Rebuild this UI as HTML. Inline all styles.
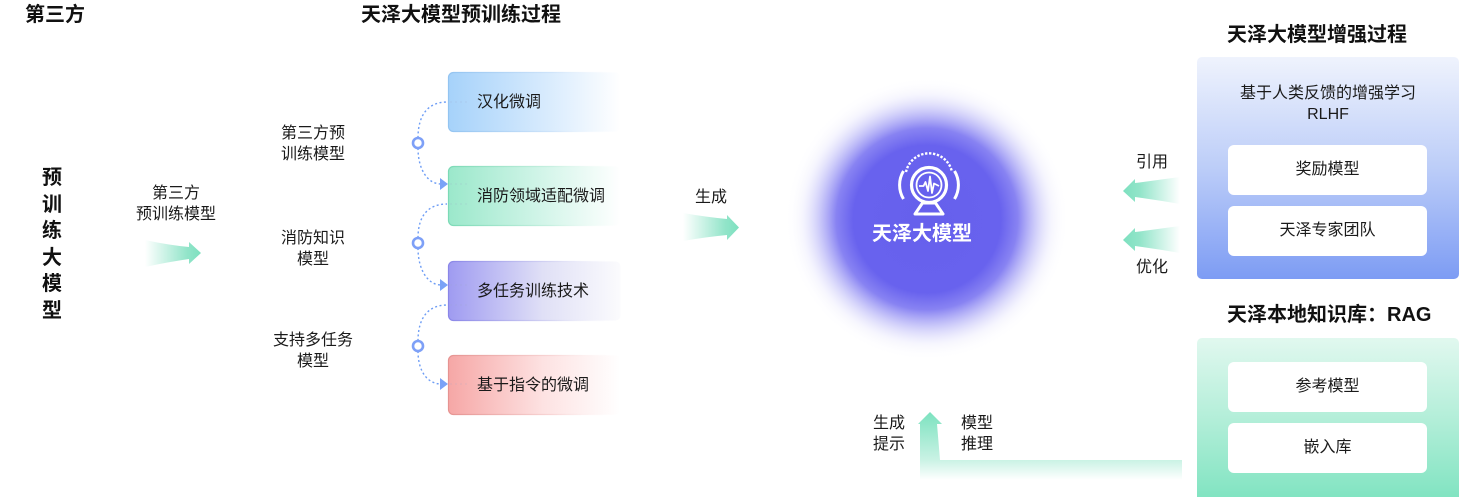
<!DOCTYPE html>
<html><head><meta charset="utf-8"><style>
html,body{margin:0;padding:0;background:#fff;}
body{width:1459px;height:497px;position:relative;overflow:hidden;font-family:"Liberation Sans","Noto Sans CJK SC",sans-serif;color:#1a1a1a;}
.t{position:absolute;white-space:nowrap;}
.b20{font-size:20px;font-weight:bold;line-height:24px;color:#111;}
.n16{font-size:16px;line-height:21px;}
.c{text-align:center;}
svg{position:absolute;left:0;top:0;}
</style></head><body>
<svg width="1459" height="497" viewBox="0 0 1459 497">
<defs>
<linearGradient id="g1" x1="0" x2="1" y1="0" y2="0"><stop offset="0" stop-color="#a6d2fa"/><stop offset="0.55" stop-color="#d6eafd"/><stop offset="1" stop-color="#ffffff"/></linearGradient>
<linearGradient id="s1" x1="0" x2="1"><stop offset="0" stop-color="#93c4f1"/><stop offset="0.6" stop-color="#cfe4fa"/><stop offset="1" stop-color="#ffffff" stop-opacity="0"/></linearGradient>
<linearGradient id="g2" x1="0" x2="1"><stop offset="0" stop-color="#9be8cb"/><stop offset="0.55" stop-color="#d3f5e9"/><stop offset="1" stop-color="#ffffff"/></linearGradient>
<linearGradient id="s2" x1="0" x2="1"><stop offset="0" stop-color="#7cdab6"/><stop offset="0.6" stop-color="#c8f0e1"/><stop offset="1" stop-color="#ffffff" stop-opacity="0"/></linearGradient>
<linearGradient id="g3" x1="0" x2="1"><stop offset="0" stop-color="#9f9bf1"/><stop offset="0.55" stop-color="#e0e0f6"/><stop offset="1" stop-color="#fbfbfd"/></linearGradient>
<linearGradient id="s3" x1="0" x2="1"><stop offset="0" stop-color="#8a86e8"/><stop offset="0.6" stop-color="#d6d6f3"/><stop offset="1" stop-color="#ffffff" stop-opacity="0"/></linearGradient>
<linearGradient id="g4" x1="0" x2="1"><stop offset="0" stop-color="#f6a7a6"/><stop offset="0.55" stop-color="#fde2e2"/><stop offset="1" stop-color="#ffffff"/></linearGradient>
<linearGradient id="s4" x1="0" x2="1"><stop offset="0" stop-color="#e69391"/><stop offset="0.6" stop-color="#f8d6d6"/><stop offset="1" stop-color="#ffffff" stop-opacity="0"/></linearGradient>
<linearGradient id="hl" x1="0" x2="1"><stop offset="0" stop-color="#a9bffa" stop-opacity="0"/><stop offset="1" stop-color="#a3bafa"/></linearGradient>
<linearGradient id="ar" x1="0" x2="1"><stop offset="0" stop-color="#7fe0c0" stop-opacity="0"/><stop offset="0.75" stop-color="#7fe0c0" stop-opacity="0.85"/><stop offset="1" stop-color="#7de0bf"/></linearGradient>
<linearGradient id="al" x1="0" x2="1"><stop offset="0" stop-color="#7de0bf"/><stop offset="0.3" stop-color="#7fe0c0" stop-opacity="0.85"/><stop offset="1" stop-color="#7fe0c0" stop-opacity="0"/></linearGradient>
<linearGradient id="au" x1="0" x2="0" y1="412" y2="480" gradientUnits="userSpaceOnUse"><stop offset="0" stop-color="#7ce2bf"/><stop offset="0.7" stop-color="#c9f2e4"/><stop offset="1" stop-color="#ffffff"/></linearGradient>
<radialGradient id="glow" cx="927" cy="219" r="142" gradientUnits="userSpaceOnUse"><stop offset="0" stop-color="#6660ec"/><stop offset="0.52" stop-color="#6862ee"/><stop offset="0.64" stop-color="#736df0" stop-opacity="0.85"/><stop offset="0.76" stop-color="#8f8bf3" stop-opacity="0.45"/><stop offset="0.88" stop-color="#c4c2f8" stop-opacity="0.15"/><stop offset="1" stop-color="#ffffff" stop-opacity="0"/></radialGradient>
<linearGradient id="bb" x1="0" x2="0" y1="0" y2="1"><stop offset="0" stop-color="#eff3fd"/><stop offset="0.5" stop-color="#bccdf8"/><stop offset="1" stop-color="#7d9cf4"/></linearGradient>
<linearGradient id="gb" x1="0" x2="0" y1="0" y2="1"><stop offset="0" stop-color="#e1f8ef"/><stop offset="0.5" stop-color="#b2eed8"/><stop offset="1" stop-color="#7ee3c0"/></linearGradient>
</defs>

<!-- center glow -->
<circle cx="927" cy="219" r="142" fill="url(#glow)"/>

<!-- boxes -->
<rect x="448.5" y="72.5" width="172" height="59" rx="5" fill="url(#g1)" stroke="url(#s1)" stroke-width="1.2"/>
<rect x="448.5" y="166.5" width="172" height="59" rx="5" fill="url(#g2)" stroke="url(#s2)" stroke-width="1.2"/>
<rect x="448.5" y="261.5" width="172" height="59" rx="5" fill="url(#g3)" stroke="url(#s3)" stroke-width="1.2"/>
<rect x="448.5" y="355.5" width="172" height="59" rx="5" fill="url(#g4)" stroke="url(#s4)" stroke-width="1.2"/>

<!-- horizontal lines -->
<line x1="362" y1="143" x2="413" y2="143" stroke="url(#hl)" stroke-width="2.5"/>
<line x1="362" y1="243" x2="413" y2="243" stroke="url(#hl)" stroke-width="2.5"/>
<line x1="362" y1="346" x2="413" y2="346" stroke="url(#hl)" stroke-width="2.5"/>

<!-- dotted curves -->
<g fill="none" stroke="#6e9df5" stroke-width="1.4" stroke-dasharray="2 2.5">
<path d="M418,138 C418,115 428,102 447,102"/>
<path d="M418,148 C418,170 428,184 441,184"/>
<path d="M418,238 C418,216 428,204 447,204"/>
<path d="M418,248 C418,270 428,285 441,285"/>
<path d="M418,341 C418,318 428,305 447,305"/>
<path d="M418,351 C418,372 428,384 441,384"/>
</g>
<g fill="none" stroke="#9aa8c8" stroke-opacity="0.25" stroke-width="1" stroke-dasharray="2 3">
<line x1="450" y1="102" x2="468" y2="102"/><line x1="450" y1="184" x2="468" y2="184"/>
<line x1="450" y1="204" x2="468" y2="204"/><line x1="450" y1="285" x2="468" y2="285"/>
<line x1="450" y1="305" x2="468" y2="305"/><line x1="450" y1="384" x2="468" y2="384"/>
</g>
<g fill="#7aa2f7">
<polygon points="440,178 448,184 440,190"/>
<polygon points="440,279 448,285 440,291"/>
<polygon points="440,378 448,384 440,390"/>
</g>
<g fill="#fff" stroke="#7ea0f7" stroke-width="2.6">
<circle cx="418" cy="143" r="5"/>
<circle cx="418" cy="243" r="5"/>
<circle cx="418" cy="346" r="5"/>
</g>

<!-- green arrows -->
<path d="M145,240 Q168,245 189,247 L189,242 L201,253 L189,264 L189,259 Q168,262 145,267 Z" fill="url(#ar)"/>
<path d="M683,213 Q706,217 727,219 L727,215 L739,227.5 L727,240 L727,235 Q706,237 683,241 Z" fill="url(#ar)"/>
<path d="M1123,191 L1135,179 L1135,183 Q1158,180 1180,177 L1180,204 Q1158,200 1135,197 L1135,202 Z" fill="url(#al)"/>
<path d="M1123,240 L1135,228 L1135,232 Q1158,229 1180,226 L1180,253 Q1158,249 1135,246 L1135,251 Z" fill="url(#al)"/>
<path d="M930,412 L942,424 L937,424 L940,460 L1182,460 L1182,480 L920,480 L920,424 L918,424 Z" fill="url(#au)"/>

<!-- right boxes -->
<rect x="1197" y="57" width="262" height="222" rx="5" fill="url(#bb)"/>
<rect x="1228" y="145" width="199" height="50" rx="6" fill="#fff"/>
<rect x="1228" y="206" width="199" height="50" rx="6" fill="#fff"/>
<rect x="1197" y="338" width="262" height="165" rx="5" fill="url(#gb)"/>
<rect x="1228" y="362" width="199" height="50" rx="6" fill="#fff"/>
<rect x="1228" y="423" width="199" height="50" rx="6" fill="#fff"/>

<!-- icon -->
<g fill="none" stroke="#fff">
<path d="M906,172 A23.5,23.5 0 0 1 952,172" stroke-width="2.4" stroke-dasharray="2.4 1.6"/>
<path d="M903.5,171 A27,27 0 0 0 903.5,199" stroke-width="3"/>
<path d="M954.5,171 A27,27 0 0 1 954.5,199" stroke-width="3"/>
<circle cx="929" cy="185" r="17.5" stroke-width="3.2"/>
<circle cx="929" cy="185" r="12.5" stroke-width="1.8"/>
<polyline points="919,186 923.5,186 925.5,182 928,191 930,176.5 932,193 934,183.5 939,186" stroke-width="1.8" stroke-linejoin="round"/>
<path d="M922.5,203 L935.5,203 L943,214 L915,214 Z" stroke-width="3" stroke-linejoin="round"/>
</g>
</svg>

<!-- headings -->
<div class="t b20" style="left:25px;top:3px;">第三方</div>
<div class="t b20" style="left:361px;top:3px;">天泽大模型预训练过程</div>
<div class="t b20" style="left:1227px;top:23px;">天泽大模型增强过程</div>
<div class="t b20" style="left:1227px;top:303px;">天泽本地知识库：RAG</div>

<!-- vertical text -->
<div class="t" style="left:42px;top:165px;width:22px;font-size:20px;font-weight:bold;line-height:26.5px;color:#111;white-space:normal;">预<br>训<br>练<br>大<br>模<br>型</div>

<div class="t n16 c" style="left:126px;top:183px;width:100px;">第三方<br>预训练模型</div>

<div class="t n16 c" style="left:263px;top:123px;width:100px;">第三方预<br>训练模型</div>
<div class="t n16 c" style="left:263px;top:228px;width:100px;">消防知识<br>模型</div>
<div class="t n16 c" style="left:263px;top:330px;width:100px;">支持多任务<br>模型</div>

<div class="t n16" style="left:477px;top:92px;">汉化微调</div>
<div class="t n16" style="left:477px;top:186px;">消防领域适配微调</div>
<div class="t n16" style="left:477px;top:281px;">多任务训练技术</div>
<div class="t n16" style="left:477px;top:375px;">基于指令的微调</div>

<div class="t n16" style="left:695px;top:187px;">生成</div>

<div class="t" style="left:822px;top:222px;width:200px;text-align:center;font-size:20px;font-weight:bold;line-height:24px;color:#fff;">天泽大模型</div>

<div class="t n16" style="left:1136px;top:152px;">引用</div>
<div class="t n16" style="left:1136px;top:257px;">优化</div>

<div class="t n16 c" style="left:1197px;top:83px;width:262px;">基于人类反馈的增强学习<br>RLHF</div>
<div class="t n16 c" style="left:1228px;top:159px;width:199px;">奖励模型</div>
<div class="t n16 c" style="left:1228px;top:220px;width:199px;">天泽专家团队</div>
<div class="t n16 c" style="left:1228px;top:376px;width:199px;">参考模型</div>
<div class="t n16 c" style="left:1228px;top:437px;width:199px;">嵌入库</div>

<div class="t n16" style="left:873px;top:413px;">生成<br>提示</div>
<div class="t n16" style="left:961px;top:413px;">模型<br>推理</div>
</body></html>
